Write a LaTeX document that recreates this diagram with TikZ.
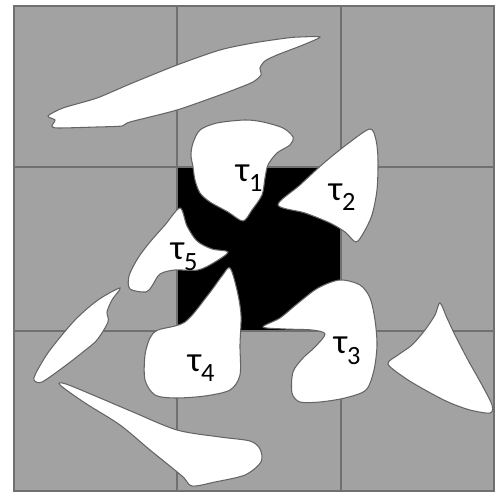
\documentclass[tikz,border=0pt]{standalone}
\usepackage{fontspec}
\setmainfont{Carlito}
\usepackage{tikz}
\definecolor{cellgray}{RGB}{162,162,162}
\definecolor{gridline}{RGB}{112,112,112}
\definecolor{blobedge}{RGB}{100,100,100}
\newcommand{\taulab}[1]{τ\raisebox{-0.3em}{\fontsize{15}{15}\selectfont #1}}

\begin{document}
\begin{tikzpicture}[x=0.02cm,y=-0.02cm,
  blob/.style={fill=white,draw=blobedge,line width=0.6pt},
  tlabel/.style={font=\fontsize{20}{20}\selectfont,inner sep=0pt}]
\useasboundingbox (0,0) rectangle (495,492);
% Grid of cells
\fill[cellgray] (14,6) rectangle (494,491);
\fill[black] (177,167) rectangle (341,331);
\draw[gridline,line width=0.6pt] (14,6) rectangle (494,491);
\draw[gridline,line width=0.6pt] (177,6) -- (177,491) (341,6) -- (341,491);
\draw[gridline,line width=0.6pt] (14,167) -- (494,167) (14,331) -- (494,331);
% Outer pieces
\draw[blob] plot[smooth cycle,tension=0.45] coordinates {(48,116) (55,120) (52,126) (58,128) (97,127) (122,126) (130,122) (177,110) (220,95) (236,89) (253,82) (261,75) (260,68) (265,61) (277,55) (303,45) (320,37) (300,37) (287,38) (253,43) (220,50) (177,65) (130,84) (97,98) (63,108)};
\draw[blob] plot[smooth cycle,tension=0.5] coordinates {(120,288) (112,300) (107,312) (108,322) (97,340) (83,352) (65,366) (42,382) (34,380) (37,371) (50,350) (75,320) (98,300)};
\draw[blob] plot[smooth cycle,tension=0.5] coordinates {(60,385) (66,384) (100,398) (133,412) (177,430) (220,437) (250,441) (260,449) (261,462) (245,475) (215,482) (192,486) (182,476) (150,450) (120,425) (85,403)};
\draw[blob] plot[smooth cycle,tension=0.5] coordinates {(440,303) (447,318) (455,335) (468,360) (482,385) (492,405) (490,413) (470,410) (448,402) (425,390) (405,378) (388,364) (398,355) (412,345) (425,330) (435,315)};
% Pieces round the black cell
\draw[blob] plot[smooth cycle,tension=0.5] coordinates {(193,143) (200,130) (217,123) (245,120) (263,122) (283,128) (293,137) (290,145) (277,153) (268,165) (265,178) (262,195) (252,210) (243,221) (228,212) (210,202) (200,193) (195,180) (193,167) (191,155)};
\draw[blob] plot[smooth cycle,tension=0.5] coordinates {(370,129) (376,140) (378,160) (377,190) (372,215) (364,232) (356,242) (345,232) (330,223) (305,213) (278,205) (300,185) (325,162) (350,142)};
\draw[blob] plot[smooth cycle,tension=0.5] coordinates {(263,327) (280,318) (297,304) (318,288) (340,280) (360,285) (370,298) (375,320) (377,345) (374,370) (366,390) (345,398) (320,402) (300,402) (292,393) (293,372) (303,358) (315,347) (325,334) (312,330) (285,329)};
\draw[blob] plot[smooth cycle,tension=0.5] coordinates {(230,268) (237,290) (241,315) (240,345) (240,375) (230,390) (205,396) (175,398) (155,395) (145,380) (145,355) (150,338) (158,330) (185,322) (208,295) (222,276)};
\draw[blob] plot[smooth cycle,tension=0.5] coordinates {(180,208) (187,226) (197,241) (212,249) (228,252) (215,262) (198,270) (175,270) (160,274) (152,286) (146,292) (130,289) (129,276) (138,258) (150,242) (165,225)};
% Labels
\node[tlabel] (t1) at (249,178) {\taulab{1}};
\node[tlabel] (t2) at (342,197) {\taulab{2}};
\node[tlabel] (t3) at (347,351) {\taulab{3}};
\node[tlabel] (t4) at (201,368) {\taulab{4}};
\node[tlabel] (t5) at (184,257) {\taulab{5}};
\end{tikzpicture}
\end{document}
